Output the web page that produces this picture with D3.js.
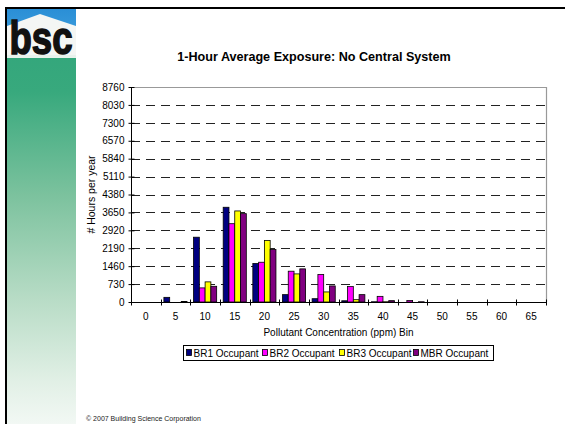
<!DOCTYPE html>
<html>
<head>
<meta charset="utf-8">
<script src="https://cdn.jsdelivr.net/npm/d3@7/dist/d3.min.js"></script>
<style>
  html, body { margin: 0; padding: 0; background: #fff; }
  svg { display: block; font-family: "Liberation Sans", Arial, sans-serif; }
</style>
</head>
<body>
<svg id="chart" width="565" height="424"></svg>
<script>
const categories = ["0","5","10","15","20","25","30","35","40","45","50","55","60","65"];
const seriesNames = ["BR1 Occupant","BR2 Occupant","BR3 Occupant","MBR Occupant"];
const br1 = [0, 190, 2640, 3860, 1570, 300, 135, 50, 10, 0, 0, 0, 0, 0];
const br2 = [0, 0, 575, 3190, 1620, 1255, 1120, 630, 230, 60, 0, 0, 0, 0];
const br3 = [0, 0, 820, 3710, 2510, 1145, 410, 95, 10, 0, 0, 0, 0, 0];
const mbr = [0, 20, 640, 3600, 2140, 1350, 655, 300, 55, 10, 0, 0, 0, 0];
const yTicks = [0,730,1460,2190,2920,3650,4380,5110,5840,6570,7300,8030,8760];
const colors = ["#000080","#FF00FF","#FFFF00","#800080"];
const titleText = "1-Hour Average Exposure: No Central System";
const yTitle = "# Hours per year";
const xTitle = "Pollutant Concentration (ppm) Bin";
const copyright = "© 2007 Building Science Corporation";

(function () {
const seriesValues = [br1, br2, br3, mbr];
const svg = d3.select("#chart");

// ---- frame & sidebar ----
const defs = svg.append("defs");
const g1 = defs.append("linearGradient").attr("id","green").attr("x1",0).attr("y1",0).attr("x2",0).attr("y2",1);
[[0,"#2fa47a"],[0.2,"#38a97d"],[0.45,"#7cc29e"],[0.7,"#b8dcc6"],[0.9,"#e2f0e6"],[1,"#f2f8f4"]]
  .forEach(([o,c]) => g1.append("stop").attr("offset",o).attr("stop-color",c));
const g2 = defs.append("linearGradient").attr("id","blue").attr("x1",0).attr("y1",0).attr("x2",0).attr("y2",1);
[[0,"#2a8fd6"],[1,"#4aa6e0"]].forEach(([o,c]) => g2.append("stop").attr("offset",o).attr("stop-color",c));

svg.append("rect").attr("x",7).attr("y",9).attr("width",69).attr("height",415).attr("fill","url(#green)");
svg.append("rect").attr("x",7).attr("y",9).attr("width",69).attr("height",48).attr("fill","url(#blue)");
svg.append("path").attr("d","M7,26 L40,14 L76,26 L76,56 L7,56 Z").attr("fill","#f4f6f4");
svg.append("rect").attr("x",7).attr("y",55).attr("width",69).attr("height",3).attr("fill","#e8f2ec");
svg.append("text").attr("x",9.5).attr("y",54).attr("font-size",47).attr("font-weight","bold")
  .attr("fill","#111").attr("stroke","#111").attr("stroke-width",1.6)
  .attr("textLength",63).attr("lengthAdjust","spacingAndGlyphs").text("bsc");
svg.append("rect").attr("x",5).attr("y",7).attr("width",560).attr("height",2).attr("fill","#000");
svg.append("rect").attr("x",5).attr("y",7).attr("width",2).attr("height",417).attr("fill","#000");

// ---- chart ----
const pLeft = 131, pRight = 546, pTop = 87, pBottom = 302;
const x = d3.scaleBand().domain(categories).range([pLeft, pRight]).paddingInner(0).paddingOuter(0);
const bw = x.bandwidth();
const x1 = d3.scaleBand().domain(seriesNames).range([bw*0.11, bw*0.89]).padding(0);
const y = d3.scaleLinear().domain([0, 8760]).range([pBottom, pTop]);

// gridlines
svg.append("g").selectAll("line").data(yTicks.filter(t => t > 0 && t < 8760)).join("line")
  .attr("x1", pLeft).attr("x2", pRight)
  .attr("y1", d => Math.round(y(d)) + 0.5).attr("y2", d => Math.round(y(d)) + 0.5)
  .attr("stroke", "#222").attr("stroke-width", 1).attr("stroke-dasharray", "9,6");
// plot border top/right
svg.append("path").attr("d", `M${pLeft},${Math.round(y(8760))+0.5} H${pRight+0.5} V${pBottom}`)
  .attr("fill","none").attr("stroke","#999").attr("stroke-width",1.2);

// bars
const barData = [];
categories.forEach((c, i) => seriesNames.forEach((s, j) => barData.push({c, s, j, v: seriesValues[j][i]})));
svg.append("g").selectAll("rect").data(barData.filter(d => d.v > 0)).join("rect")
  .attr("x", d => x(d.c) + x1(d.s))
  .attr("width", x1.bandwidth())
  .attr("y", d => y(d.v))
  .attr("height", d => y(0) - y(d.v))
  .attr("fill", d => colors[d.j])
  .attr("stroke", "#000").attr("stroke-width", 0.8);

// y axis
const yAxis = d3.axisLeft(y).tickValues(yTicks).tickSize(3).tickPadding(4).tickFormat(d3.format("d"));
const yg = svg.append("g").attr("transform", `translate(${pLeft+0.5},0)`).call(yAxis);
yg.select(".domain").attr("stroke","#000").attr("d", `M0,${y(8760)}V${y(0)}`);
yg.selectAll(".tick line").attr("x1", 3).attr("x2", -3).attr("stroke","#000");
yg.selectAll("text").attr("font-size", 10).attr("fill","#000").attr("font-family","Liberation Sans, Arial, sans-serif");

// x axis
const xg = svg.append("g").attr("transform", `translate(0,${pBottom+0.5})`);
xg.append("line").attr("x1", pLeft).attr("x2", pRight).attr("stroke","#000");
const bounds = categories.map(c => x(c)).concat([pRight]);
xg.selectAll("line.t").data(bounds).join("line").attr("class","t")
  .attr("x1", d => Math.round(d)+0.5).attr("x2", d => Math.round(d)+0.5)
  .attr("y1", -3).attr("y2", 3).attr("stroke","#000");
xg.selectAll("text").data(categories).join("text")
  .attr("x", d => x(d) + bw/2).attr("y", 17)
  .attr("text-anchor","middle").attr("font-size",10).attr("fill","#000").text(d => d);

// titles
svg.append("text").attr("x", 314).attr("y", 61).attr("text-anchor","middle")
  .attr("font-size", 12.6).attr("font-weight","bold").attr("fill","#000").text(titleText);
svg.append("text").attr("transform", `translate(95,${(pTop+pBottom)/2}) rotate(-90)`)
  .attr("text-anchor","middle").attr("font-size",10.5).attr("fill","#000").text(yTitle);
svg.append("text").attr("x", (pLeft+pRight)/2).attr("y", 336).attr("text-anchor","middle")
  .attr("font-size",10).attr("fill","#000").text(xTitle);

// legend
const lg = svg.append("g");
lg.append("rect").attr("x",183.5).attr("y",345.5).attr("width",310).attr("height",15)
  .attr("fill","#fff").attr("stroke","#000").attr("stroke-width",1);
const legX = [186, 262, 339, 413];
seriesNames.forEach((s, j) => {
  lg.append("rect").attr("x", legX[j]+0.5).attr("y", 349.5).attr("width",5).attr("height",6)
    .attr("fill", colors[j]).attr("stroke","#000").attr("stroke-width",0.8);
  lg.append("text").attr("x", legX[j]+7.5).attr("y", 357).attr("font-size",10).attr("fill","#000").text(s);
});

// copyright
svg.append("text").attr("x", 86).attr("y", 421).attr("font-size", 7).attr("fill","#222").text(copyright);
})();
</script>
</body>
</html>
